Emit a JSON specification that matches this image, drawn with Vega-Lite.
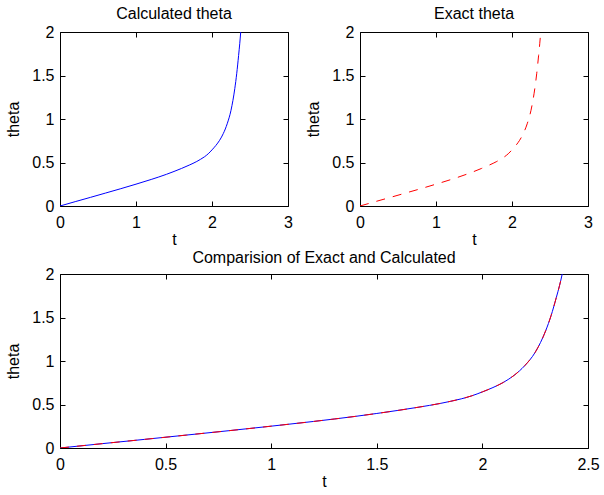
{
  "$schema": "https://vega.github.io/schema/vega-lite/v6.json",
  "padding": {"left": 5, "top": 5, "right": 5, "bottom": 5},
  "background": "white",
  "config": {
    "font": "Liberation Sans",
    "view": {"stroke": "#000", "strokeWidth": 1},
    "axis": {
      "labelFont": "Liberation Sans", "labelFontSize": 16, "labelColor": "#000",
      "titleFont": "Liberation Sans", "titleFontSize": 16, "titleFontWeight": "normal", "titleColor": "#000",
      "tickColor": "#000", "tickSize": -5, "domain": false, "grid": false,
      "labelFlush": false, "labelOverlap": false, "format": "~g"
    },
    "axisX": {"labelPadding": 13, "titlePadding": 1},
    "axisY": {"labelPadding": 11, "titlePadding": 10},
    "title": {"font": "Liberation Sans", "fontSize": 16, "fontWeight": "normal", "color": "#000"}
  },
  "datasets": {
    "theta": [
      {"t": 0, "calc": 0, "exact": 0},
      {"t": 0.2, "calc": 0.05, "exact": 0.05},
      {"t": 0.4, "calc": 0.099, "exact": 0.099},
      {"t": 0.6, "calc": 0.149, "exact": 0.149},
      {"t": 0.8, "calc": 0.199, "exact": 0.199},
      {"t": 1.0, "calc": 0.251, "exact": 0.251},
      {"t": 1.2, "calc": 0.305, "exact": 0.305},
      {"t": 1.4, "calc": 0.364, "exact": 0.364},
      {"t": 1.5, "calc": 0.397, "exact": 0.397},
      {"t": 1.6, "calc": 0.432, "exact": 0.432},
      {"t": 1.7, "calc": 0.47, "exact": 0.47},
      {"t": 1.8, "calc": 0.512, "exact": 0.512},
      {"t": 1.85, "calc": 0.537, "exact": 0.537},
      {"t": 1.9, "calc": 0.565, "exact": 0.565},
      {"t": 1.95, "calc": 0.6, "exact": 0.6},
      {"t": 2.0, "calc": 0.645, "exact": 0.645},
      {"t": 2.05, "calc": 0.695, "exact": 0.695},
      {"t": 2.1, "calc": 0.755, "exact": 0.755},
      {"t": 2.15, "calc": 0.835, "exact": 0.835},
      {"t": 2.2, "calc": 0.945, "exact": 0.945},
      {"t": 2.25, "calc": 1.1, "exact": 1.1},
      {"t": 2.3, "calc": 1.35, "exact": 1.35},
      {"t": 2.325, "calc": 1.52, "exact": 1.52},
      {"t": 2.35, "calc": 1.73, "exact": 1.73},
      {"t": 2.365, "calc": 1.865, "exact": 1.865},
      {"t": 2.378, "calc": 2.0, "exact": 2.0},
      {"t": 2.39, "calc": 2.14, "exact": 2.14}
    ]
  },
  "spacing": 1,
  "vconcat": [
    {
      "bounds": "flush",
      "spacing": 72,
      "hconcat": [
        {
          "width": 228, "height": 174,
          "title": {"text": "Calculated theta", "offset": 2},
          "data": {"name": "theta"},
          "resolve": {"axis": {"x": "independent", "y": "independent"}},
          "layer": [
            {
              "mark": {"type": "line", "color": "#0000ff", "strokeWidth": 1, "clip": true, "interpolate": "monotone"},
              "encoding": {
                "x": {"field": "t", "type": "quantitative", "scale": {"domain": [0, 3], "nice": false}, "axis": {"values": [0, 1, 2, 3], "title": "t"}},
                "y": {"field": "calc", "type": "quantitative", "scale": {"domain": [0, 2], "nice": false}, "axis": {"values": [0, 0.5, 1, 1.5, 2], "title": "theta"}}
              }
            },
            {
              "mark": {"type": "line", "strokeOpacity": 0, "clip": true},
              "encoding": {
                "x": {"field": "t", "type": "quantitative", "scale": {"domain": [0, 3], "nice": false}, "axis": {"orient": "top", "values": [0, 1, 2, 3], "labels": false, "title": null}},
                "y": {"field": "calc", "type": "quantitative", "scale": {"domain": [0, 2], "nice": false}, "axis": {"orient": "right", "values": [0, 0.5, 1, 1.5, 2], "labels": false, "title": null}}
              }
            }
          ]
        },
        {
          "width": 228, "height": 174,
          "title": {"text": "Exact theta", "offset": 2},
          "data": {"name": "theta"},
          "resolve": {"axis": {"x": "independent", "y": "independent"}},
          "layer": [
            {
              "mark": {"type": "line", "color": "#ff0000", "strokeWidth": 1, "strokeDash": [9, 8], "clip": true, "interpolate": "monotone"},
              "encoding": {
                "x": {"field": "t", "type": "quantitative", "scale": {"domain": [0, 3], "nice": false}, "axis": {"values": [0, 1, 2, 3], "title": "t"}},
                "y": {"field": "exact", "type": "quantitative", "scale": {"domain": [0, 2], "nice": false}, "axis": {"values": [0, 0.5, 1, 1.5, 2], "title": "theta"}}
              }
            },
            {
              "mark": {"type": "line", "strokeOpacity": 0, "clip": true},
              "encoding": {
                "x": {"field": "t", "type": "quantitative", "scale": {"domain": [0, 3], "nice": false}, "axis": {"orient": "top", "values": [0, 1, 2, 3], "labels": false, "title": null}},
                "y": {"field": "exact", "type": "quantitative", "scale": {"domain": [0, 2], "nice": false}, "axis": {"orient": "right", "values": [0, 0.5, 1, 1.5, 2], "labels": false, "title": null}}
              }
            }
          ]
        }
      ]
    },
    {
      "width": 528, "height": 174,
      "title": {"text": "Comparision of Exact and Calculated", "offset": 0},
      "data": {"name": "theta"},
      "resolve": {"axis": {"x": "independent", "y": "independent"}},
      "layer": [
        {
          "mark": {"type": "line", "color": "#0000ff", "strokeWidth": 1, "clip": true, "interpolate": "monotone"},
          "encoding": {
            "x": {"field": "t", "type": "quantitative", "scale": {"domain": [0, 2.5], "nice": false}, "axis": {"values": [0, 0.5, 1, 1.5, 2, 2.5], "title": "t"}},
            "y": {"field": "calc", "type": "quantitative", "scale": {"domain": [0, 2], "nice": false}, "axis": {"values": [0, 0.5, 1, 1.5, 2], "title": "theta"}}
          }
        },
        {
          "mark": {"type": "line", "color": "#ff0000", "strokeWidth": 1, "strokeDash": [9, 8], "clip": true, "interpolate": "monotone"},
          "encoding": {
            "x": {"field": "t", "type": "quantitative", "scale": {"domain": [0, 2.5], "nice": false}, "axis": {"orient": "top", "values": [0, 0.5, 1, 1.5, 2, 2.5], "labels": false, "title": null}},
            "y": {"field": "exact", "type": "quantitative", "scale": {"domain": [0, 2], "nice": false}, "axis": {"orient": "right", "values": [0, 0.5, 1, 1.5, 2], "labels": false, "title": null}}
          }
        }
      ]
    }
  ]
}
